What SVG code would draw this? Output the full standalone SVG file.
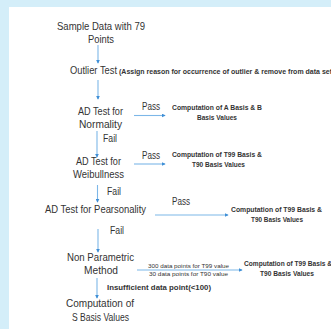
<svg xmlns="http://www.w3.org/2000/svg" width="331" height="329" viewBox="0 0 331 329">
<style>
.m{font-family:"Liberation Sans",Arial,sans-serif;font-size:10.5px;fill:#333;text-anchor:start}
.s{font-family:"Liberation Sans",Arial,sans-serif;font-size:6.5px;font-weight:bold;fill:#333}
.t{font-family:"Liberation Sans",Arial,sans-serif;font-size:4.8px;fill:#333}
.c line{stroke:#7db7e8;stroke-width:1.1;marker-end:url(#ah)}
</style>
<defs>
<marker id="ah" viewBox="0 0 6 6" refX="5" refY="3" markerWidth="4" markerHeight="4" orient="auto" markerUnits="userSpaceOnUse">
<path d="M0,0 L6,3 L0,6 z" fill="#3f8fd6"/>
</marker>
</defs>
<rect x="0" y="0" width="331" height="329" fill="#ffffff"/>
<rect x="0" y="0" width="331" height="7" fill="#d4eef9"/>
<rect x="0" y="0" width="9" height="329" fill="#d4eef9"/>

<g class="c" id="connectors">
<line x1="98" y1="45" x2="98" y2="63"/>
<line x1="98" y1="80" x2="98" y2="99"/>
<line x1="134" y1="115.5" x2="165" y2="115.5"/>
<line x1="97" y1="131" x2="97" y2="157"/>
<line x1="134" y1="164" x2="165" y2="164"/>
<line x1="97.5" y1="185" x2="97.5" y2="202"/>
<line x1="155" y1="215" x2="228" y2="215"/>
<line x1="98" y1="229" x2="98" y2="252"/>
<line x1="137" y1="270" x2="242" y2="270"/>
<line x1="97" y1="278" x2="97" y2="298"/>
<text class="m" x="142" y="110" textLength="18" lengthAdjust="spacingAndGlyphs">Pass</text>
<text class="m" x="103" y="142" textLength="14" lengthAdjust="spacingAndGlyphs">Fail</text>
<text class="m" x="142" y="159" textLength="18" lengthAdjust="spacingAndGlyphs">Pass</text>
<text class="m" x="107" y="195" textLength="14" lengthAdjust="spacingAndGlyphs">Fail</text>
<text class="m" x="172" y="205" textLength="18" lengthAdjust="spacingAndGlyphs">Pass</text>
<text class="m" x="110" y="234" textLength="14" lengthAdjust="spacingAndGlyphs">Fail</text>
<text class="t" x="148" y="268" textLength="81" lengthAdjust="spacingAndGlyphs">300 data points for T99 value</text>
<text class="t" x="149" y="275.5" textLength="79" lengthAdjust="spacingAndGlyphs">30 data points for T90 value</text>
<text class="s" x="107" y="290" textLength="104" lengthAdjust="spacingAndGlyphs">Insufficient data point(&lt;100)</text>
</g>

<g id="sample">
<text class="m" x="57" y="29.5" textLength="88" lengthAdjust="spacingAndGlyphs">Sample Data with 79</text>
<text class="m" x="88" y="42.5" textLength="26" lengthAdjust="spacingAndGlyphs">Points</text>
</g>
<g id="outlier">
<text class="m" x="70" y="74" textLength="47" lengthAdjust="spacingAndGlyphs">Outlier Test</text>
<text class="s" x="119" y="74" textLength="213" lengthAdjust="spacingAndGlyphs">(Assign reason for occurrence of outlier &amp; remove from data set</text>
</g>
<g id="normality">
<text class="m" x="78" y="115" textLength="45" lengthAdjust="spacingAndGlyphs">AD Test for</text>
<text class="m" x="79" y="128" textLength="43" lengthAdjust="spacingAndGlyphs">Normality</text>
</g>
<g id="ab-basis">
<text class="s" x="172" y="109.5" textLength="90" lengthAdjust="spacingAndGlyphs">Computation of A Basis &amp; B</text>
<text class="s" x="197" y="119.5" textLength="40" lengthAdjust="spacingAndGlyphs">Basis Values</text>
</g>
<g id="weibull">
<text class="m" x="76" y="165" textLength="45" lengthAdjust="spacingAndGlyphs">AD Test for</text>
<text class="m" x="73" y="178" textLength="51" lengthAdjust="spacingAndGlyphs">Weibullness</text>
</g>
<g id="t-basis-1">
<text class="s" x="172" y="156.7" textLength="90" lengthAdjust="spacingAndGlyphs">Computation of T99 Basis &amp;</text>
<text class="s" x="192" y="166.7" textLength="53" lengthAdjust="spacingAndGlyphs">T90 Basis Values</text>
</g>
<g id="pearson">
<text class="m" x="45" y="213" textLength="101" lengthAdjust="spacingAndGlyphs">AD Test for Pearsonality</text>
</g>
<g id="t-basis-2">
<text class="s" x="231" y="212" textLength="91" lengthAdjust="spacingAndGlyphs">Computation of T99 Basis &amp;</text>
<text class="s" x="251" y="221.5" textLength="52" lengthAdjust="spacingAndGlyphs">T90 Basis Values</text>
</g>
<g id="nonparam">
<text class="m" x="67" y="260.5" textLength="67" lengthAdjust="spacingAndGlyphs">Non Parametric</text>
<text class="m" x="84" y="274" textLength="34" lengthAdjust="spacingAndGlyphs">Method</text>
</g>
<g id="t-basis-3">
<text class="s" x="244" y="265.5" textLength="88" lengthAdjust="spacingAndGlyphs">Computation of T99 Basis &amp;</text>
<text class="s" x="260" y="275.5" textLength="54" lengthAdjust="spacingAndGlyphs">T90 Basis Values</text>
</g>
<g id="s-basis">
<text class="m" x="66" y="306.5" textLength="68" lengthAdjust="spacingAndGlyphs">Computation of</text>
<text class="m" x="72" y="321" textLength="57" lengthAdjust="spacingAndGlyphs">S Basis Values</text>
</g>
</svg>
